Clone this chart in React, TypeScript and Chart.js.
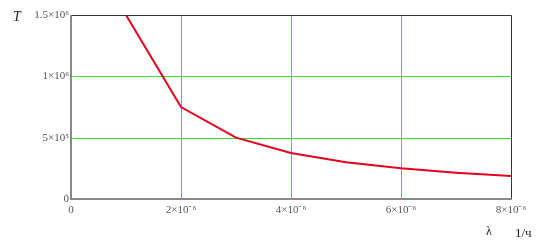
import React, { useEffect, useRef } from "react";
import { Chart, registerables } from "chart.js";

Chart.register(...registerables);

const lambdaValues = [1e-6, 2e-6, 3e-6, 4e-6, 5e-6, 6e-6, 7e-6, 8e-6];
const tValues = [1500000, 750000, 500000, 375000, 300000, 250000, 214000, 187500];
const xTickValues = [0, 2e-6, 4e-6, 6e-6, 8e-6];
const xTickLabels = ["0", "2×10⁻⁶", "4×10⁻⁶", "6×10⁻⁶", "8×10⁻⁶"];
const yTickValues = [0, 500000, 1000000, 1500000];
const yTickLabels = ["0", "5×10⁵", "1×10⁶", "1.5×10⁶"];
const yTitle = "T";
const xTitle = "λ";
const xUnit = "1/ч";

const SERIF = "'Liberation Serif', 'Times New Roman', serif";

export default function App() {
  const ref = useRef<HTMLCanvasElement | null>(null);
  useEffect(() => {
    if (!ref.current) return;
    const gridPlugin = {
      id: "greenGrid",
      beforeDatasetsDraw(chart: any) {
        const { ctx, chartArea, scales } = chart;
        ctx.save();
        ctx.strokeStyle = "#33dd33";
        ctx.lineWidth = 1;
        ctx.beginPath();
        xTickValues.slice(1, -1).forEach((v) => {
          const px = Math.round(scales.x.getPixelForValue(v)) + 0.5;
          ctx.moveTo(px, chartArea.top);
          ctx.lineTo(px, chartArea.bottom);
        });
        yTickValues.slice(1, -1).forEach((v) => {
          const py = Math.round(scales.y.getPixelForValue(v)) + 0.5;
          ctx.moveTo(chartArea.left, py);
          ctx.lineTo(chartArea.right, py);
        });
        ctx.stroke();
        ctx.restore();
      },
    };
    const framePlugin = {
      id: "frame",
      afterDraw(chart: any) {
        const { ctx, chartArea } = chart;
        ctx.save();
        ctx.strokeStyle = "#333";
        ctx.lineWidth = 1;
        ctx.beginPath();
        ctx.moveTo(chartArea.left, chartArea.top + 0.5);
        ctx.lineTo(chartArea.right + 0.5, chartArea.top + 0.5);
        ctx.lineTo(chartArea.right + 0.5, chartArea.bottom);
        ctx.stroke();
        ctx.strokeStyle = "#888";
        ctx.lineWidth = 2;
        ctx.beginPath();
        ctx.moveTo(chartArea.left, chartArea.top);
        ctx.lineTo(chartArea.left, chartArea.bottom);
        ctx.lineTo(chartArea.right + 1, chartArea.bottom);
        ctx.stroke();
        ctx.fillStyle = "#222";
        ctx.textBaseline = "middle";
        ctx.font = "italic 14px " + SERIF;
        ctx.fillText(yTitle, 13, 17);
        ctx.font = "12px " + SERIF;
        ctx.fillText(xTitle, 486, 232);
        ctx.font = "13px " + SERIF;
        ctx.fillText(xUnit, 515, 234);
        ctx.restore();
      },
    };
    const chart = new Chart(ref.current, {
      type: "line",
      data: {
        datasets: [
          {
            data: lambdaValues.map((x, i) => ({ x, y: tValues[i] })),
            borderColor: "#e5001e",
            borderWidth: 2,
            pointRadius: 0,
            tension: 0,
          },
        ],
      },
      options: {
        animation: false,
        responsive: false,
        layout: { padding: { top: 15, right: 31, left: 0, bottom: 0 } },
        plugins: { legend: { display: false }, tooltip: { enabled: false } },
        scales: {
          x: {
            type: "linear",
            min: 0,
            max: 8e-6,
            afterBuildTicks: (s: any) => {
              s.ticks = xTickValues.map((v) => ({ value: v }));
            },
            afterFit: (s: any) => {
              s.height = 43;
            },
            ticks: {
              autoSkip: false,
              maxRotation: 0,
              padding: 5,
              color: "#555",
              font: { family: SERIF, size: 11 },
              callback: (_v: any, i: number) => xTickLabels[i],
            },
            grid: { display: false, drawTicks: false },
            border: { display: false },
          },
          y: {
            type: "linear",
            min: 0,
            max: 1500000,
            afterBuildTicks: (s: any) => {
              s.ticks = yTickValues.map((v) => ({ value: v }));
            },
            afterFit: (s: any) => {
              s.width = 71;
            },
            ticks: {
              autoSkip: false,
              padding: 2,
              color: "#555",
              font: { family: SERIF, size: 11 },
              callback: (_v: any, i: number) => yTickLabels[i],
            },
            grid: { display: false, drawTicks: false },
            border: { display: false },
          },
        },
      },
      plugins: [gridPlugin, framePlugin],
    } as any);
    return () => chart.destroy();
  }, []);
  return (
    <div style={{ position: "fixed", left: 0, top: 0, width: 542, height: 242, background: "#fff" }}>
      <canvas ref={ref} width={542} height={242} style={{ width: 542, height: 242 }} />
    </div>
  );
}
